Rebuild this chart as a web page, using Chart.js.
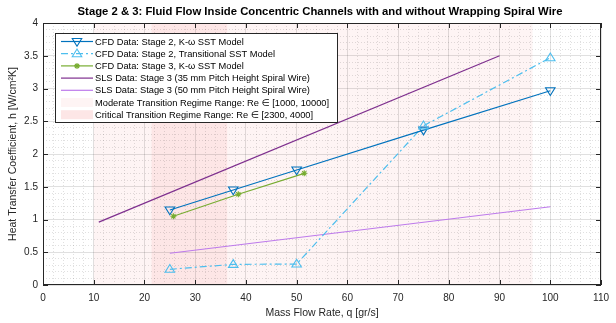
<!DOCTYPE html>
<html>
<head>
<meta charset="utf-8">
<script src="https://cdn.jsdelivr.net/npm/chart.js@4.4.1/dist/chart.umd.min.js"></script>
<style>
html,body{margin:0;padding:0;background:#fff;}
canvas{display:block;}
</style>
</head>
<body>
<canvas id="c" width="616" height="323"></canvas>
<script>
// ---- data ----
const stage2KwMass = [25, 37.5, 50, 75, 100];
const stage2KwH    = [1.145, 1.45, 1.755, 2.365, 2.965];
const stage2TrMass = [25, 37.5, 50, 75, 100];
const stage2TrH    = [0.24, 0.315, 0.32, 2.43, 3.47];
const stage3KwMass = [25.7, 38.5, 51.5];
const stage3KwH    = [1.05, 1.385, 1.705];
const sls35Mass = [11, 90];
const sls35H    = [0.96, 3.5];
const sls50Mass = [25, 100];
const sls50H    = [0.485, 1.195];
const moderateRange = [10, 96.5];
const criticalRange = [21.4, 36.3];
const xTicks = [0,10,20,30,40,50,60,70,80,90,100,110];
const yTicks = [0,0.5,1,1.5,2,2.5,3,3.5,4];
const seriesLabels = [
  'CFD Data: Stage 2, K-\u03C9 SST Model',
  'CFD Data: Stage 2, Transitional SST Model',
  'CFD Data: Stage 3, K-\u03C9 SST Model',
  'SLS Data: Stage 3 (35 mm Pitch Height Spiral Wire)',
  'SLS Data: Stage 3 (50 mm Pitch Height Spiral Wire)',
  'Moderate Transition Regime Range: Re \u2208 [1000, 10000]',
  'Critical Transition Regime Range: Re \u2208 [2300, 4000]'
];
const titleText = 'Stage 2 & 3: Fluid Flow Inside Concentric Channels with and without Wrapping Spiral Wire';
const xTitle = 'Mass Flow Rate, q [gr/s]';
const yTitle = 'Heat Transfer Coefficient, h [W/cm\u00B2K]';

// ---- styles ----
const FONT = '"Liberation Sans", Arial, "DejaVu Sans", sans-serif';
const AX = '#262626';
const C1 = '#0072BD', C2 = '#4DBEEE', C3 = '#77AC30', C4 = '#7E2F8E', C5 = '#BD7AEB';
const MOD_FILL = '#FEF4F4', CRIT_FILL = '#FDE6E6';
const DASHDOT = [7, 3, 2, 3];

function pts(xs, ys){ return xs.map((x,i)=>({x:x, y:ys[i]})); }

function drawMarker(ctx, kind, x, y, color){
  ctx.save();
  ctx.strokeStyle = color; ctx.lineWidth = 1.1; ctx.setLineDash([]);
  const r = 5;
  if (kind === 'triDown' || kind === 'triUp'){
    const s = kind === 'triDown' ? 1 : -1;
    ctx.beginPath();
    ctx.moveTo(x - r*0.95, y - s*r*0.6);
    ctx.lineTo(x + r*0.95, y - s*r*0.6);
    ctx.lineTo(x, y + s*r*0.95);
    ctx.closePath();
    ctx.stroke();
  } else if (kind === 'star'){
    const q = 3;
    ctx.beginPath();
    ctx.moveTo(x-q,y); ctx.lineTo(x+q,y);
    ctx.moveTo(x,y-q); ctx.lineTo(x,y+q);
    ctx.moveTo(x-q*0.7,y-q*0.7); ctx.lineTo(x+q*0.7,y+q*0.7);
    ctx.moveTo(x-q*0.7,y+q*0.7); ctx.lineTo(x+q*0.7,y-q*0.7);
    ctx.stroke();
  }
  ctx.restore();
}

const markerKinds = ['triDown','triUp','star',null,null];

const decor = {
  id: 'decor',
  beforeDraw(chart){
    const {ctx, chartArea:a, scales:{x}} = chart;
    ctx.save();
    ctx.fillStyle = MOD_FILL;
    const m0 = x.getPixelForValue(moderateRange[0]), m1 = x.getPixelForValue(moderateRange[1]);
    ctx.fillRect(m0, a.top, m1-m0, a.bottom-a.top);
    ctx.fillStyle = CRIT_FILL;
    const c0 = x.getPixelForValue(criticalRange[0]), c1 = x.getPixelForValue(criticalRange[1]);
    ctx.fillRect(c0, a.top, c1-c0, a.bottom-a.top);
    ctx.restore();
  },
  afterDatasetsDraw(chart){
    const {ctx} = chart;
    chart.data.datasets.forEach((ds, i) => {
      const kind = markerKinds[i];
      if (!kind) return;
      const meta = chart.getDatasetMeta(i);
      meta.data.forEach(p => drawMarker(ctx, kind, p.x, p.y, ds.borderColor));
    });
  },
  afterDraw(chart){
    const {ctx, chartArea:a, scales:{x, y}} = chart;
    ctx.save();
    // box
    ctx.strokeStyle = AX; ctx.lineWidth = 1; ctx.setLineDash([]);
    ctx.strokeRect(Math.round(a.left)+0.5, Math.round(a.top)+0.5, Math.round(a.right-a.left)-1, Math.round(a.bottom-a.top)-1);
    // inward ticks
    ctx.beginPath();
    xTicks.forEach(v => {
      const px = Math.round(x.getPixelForValue(v)) + 0.5;
      ctx.moveTo(px, a.bottom); ctx.lineTo(px, a.bottom - 5);
      ctx.moveTo(px, a.top); ctx.lineTo(px, a.top + 5);
    });
    yTicks.forEach(v => {
      const py = Math.round(y.getPixelForValue(v)) + 0.5;
      ctx.moveTo(a.left, py); ctx.lineTo(a.left + 5, py);
      ctx.moveTo(a.right, py); ctx.lineTo(a.right - 5, py);
    });
    ctx.stroke();
    // title
    ctx.fillStyle = '#000';
    ctx.font = 'bold 11.3px ' + FONT;
    ctx.textAlign = 'center'; ctx.textBaseline = 'middle';
    ctx.fillText(titleText, (a.left + a.right)/2 - 2, 12);
    // legend
    const L = 55, T = 33, R = 337, B = 122;
    ctx.fillStyle = '#fff';
    ctx.fillRect(L, T, R-L, B-T);
    ctx.strokeStyle = AX;
    ctx.strokeRect(L+0.5, T+0.5, R-L, B-T);
    ctx.font = '9.3px ' + FONT;
    ctx.textAlign = 'left'; ctx.textBaseline = 'middle';
    const rowY0 = 41.5, dy = 12.2;
    seriesLabels.forEach((lab, i) => {
      const yy = rowY0 + i*dy;
      if (i < 5){
        const ds = chart.data.datasets[i];
        ctx.save();
        ctx.strokeStyle = ds.borderColor; ctx.lineWidth = 1.2;
        ctx.setLineDash(ds.borderDash || []);
        ctx.beginPath(); ctx.moveTo(61, yy); ctx.lineTo(93, yy); ctx.stroke();
        ctx.restore();
        if (markerKinds[i]) drawMarker(ctx, markerKinds[i], 77, yy, ds.borderColor);
      } else {
        ctx.fillStyle = i === 5 ? MOD_FILL : CRIT_FILL;
        ctx.fillRect(61, yy-4.5, 32, 9);
      }
      ctx.fillStyle = '#000';
      ctx.fillText(lab, 95, yy + 0.5);
    });
    ctx.restore();
  }
};

const isMajor = (v, step) => Math.abs(v/step - Math.round(v/step)) < 1e-6;

new Chart(document.getElementById('c'), {
  type: 'scatter',
  data: {
    datasets: [
      {label: seriesLabels[0], data: pts(stage2KwMass, stage2KwH), borderColor: C1, showLine: true, borderWidth: 1.2, pointRadius: 0},
      {label: seriesLabels[1], data: pts(stage2TrMass, stage2TrH), borderColor: C2, showLine: true, borderWidth: 1.2, borderDash: DASHDOT, pointRadius: 0},
      {label: seriesLabels[2], data: pts(stage3KwMass, stage3KwH), borderColor: C3, showLine: true, borderWidth: 1.2, pointRadius: 0},
      {label: seriesLabels[3], data: pts(sls35Mass, sls35H), borderColor: C4, showLine: true, borderWidth: 1.2, pointRadius: 0},
      {label: seriesLabels[4], data: pts(sls50Mass, sls50H), borderColor: C5, showLine: true, borderWidth: 1.2, pointRadius: 0}
    ]
  },
  options: {
    responsive: false,
    animation: false,
    layout: {padding: {top: 23, right: 6, left: 0, bottom: 0}},
    plugins: {legend: {display: false}, title: {display: false}, tooltip: {enabled: false}},
    scales: {
      xMinor: {
        type: 'linear', position: 'bottom', min: 0, max: 110, weight: 1,
        ticks: {display: false, stepSize: 2},
        grid: {drawTicks: false, color: c => isMajor(c.tick.value, 10) ? 'rgba(0,0,0,0)' : 'rgba(0,0,0,0.12)', lineWidth: 1},
        border: {display: false, dash: [1, 2]},
        afterFit: s => { s.height = 0; }
      },
      yMinor: {
        type: 'linear', position: 'left', min: 0, max: 4, weight: 1,
        ticks: {display: false, stepSize: 0.1},
        grid: {drawTicks: false, color: c => isMajor(c.tick.value, 0.5) ? 'rgba(0,0,0,0)' : 'rgba(0,0,0,0.12)', lineWidth: 1},
        border: {display: false, dash: [1, 2]},
        afterFit: s => { s.width = 0; }
      },
      x: {
        type: 'linear', position: 'bottom', min: 0, max: 110, weight: 0,
        afterBuildTicks: s => { s.ticks = xTicks.map(v => ({value: v})); },
        ticks: {color: AX, font: {family: FONT, size: 10}, padding: 7, maxRotation: 0, autoSkip: false, callback: v => String(v)},
        grid: {drawTicks: false, color: 'rgba(0,0,0,0.12)', lineWidth: 1},
        border: {display: false},
        title: {display: true, text: xTitle, color: AX, font: {family: FONT, size: 10.5}, padding: {top: 0, bottom: 4}},
        afterFit: s => { s.height = 38; }
      },
      y: {
        type: 'linear', position: 'left', min: 0, max: 4, weight: 0,
        afterBuildTicks: s => { s.ticks = yTicks.map(v => ({value: v})); },
        ticks: {color: AX, font: {family: FONT, size: 10}, padding: 5, autoSkip: false, callback: v => String(v)},
        grid: {drawTicks: false, color: 'rgba(0,0,0,0.12)', lineWidth: 1},
        border: {display: false},
        title: {display: true, text: yTitle, color: AX, font: {family: FONT, size: 10.5}, padding: {top: 7, bottom: 0}},
        afterFit: s => { s.width = 43; }
      }
    }
  },
  plugins: [decor]
});
</script>
</body>
</html>
